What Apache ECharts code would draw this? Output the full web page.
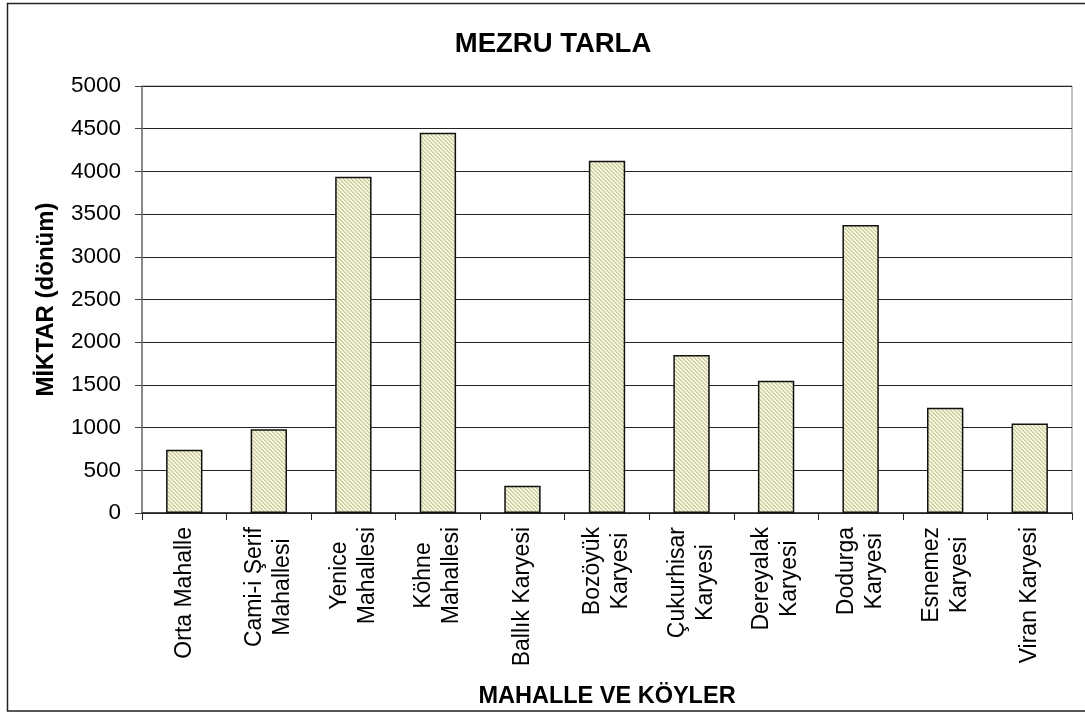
<!DOCTYPE html>
<html>
<head>
<meta charset="utf-8">
<title>MEZRU TARLA</title>
<script src="https://cdn.jsdelivr.net/npm/echarts@6/dist/echarts.min.js"></script>
<style>
    html, body { margin: 0; padding: 0; background: #fff; }
    #chart { width: 1085px; height: 722px; }
</style>
</head>
<body>
<div id="chart"></div>
<script>
// veriler
const categories = [
    'Orta Mahalle',
    'Cami-i Şerif\nMahallesi',
    'Yenice\nMahallesi',
    'Köhne\nMahallesi',
    'Ballık Karyesi',
    'Bozöyük\nKaryesi',
    'Çukurhisar\nKaryesi',
    'Dereyalak\nKaryesi',
    'Dodurga\nKaryesi',
    'Esnemez\nKaryesi',
    'Viran Karyesi'
]
const values = [740, 980, 3938, 4453, 320, 4125, 1851, 1548, 3372, 1232, 1049]
const yTicks = [0, 500, 1000, 1500, 2000, 2500, 3000, 3500, 4000, 4500, 5000]

const FONT = '"Liberation Sans", Arial, sans-serif'

// çizgili dolgu deseni
const makeHatch = () => {
    const c = document.createElement('canvas')
    c.width = 4
    c.height = 4
    const ctx = c.getContext('2d')
    for (let y = 0; y < 4; y++) {
        for (let x = 0; x < 4; x++) {
            const k = ((x - y) % 4 + 4) % 4
            ctx.fillStyle = k < 2 ? '#d2d29e' : '#f7f7ea'
            ctx.fillRect(x, y, 1, 1)
        }
    }
    return c
}

const chart = echarts.init(document.getElementById('chart'))

chart.setOption({
    animation: false,
    backgroundColor: '#fff',
    title: {
        text: 'MEZRU TARLA',
        left: 548,
        top: 25,
        textAlign: 'center',
        textStyle: { fontFamily: FONT, fontSize: 27.5, fontWeight: 'bold', color: '#000' }
    },
    graphic: [{
        type: 'rect',
        shape: { x: 7.5, y: 3.5, width: 1090, height: 707.5 },
        style: { fill: 'none', stroke: '#222', lineWidth: 1.5 },
        silent: true
    }],
    grid: {
        left: 142,
        right: 13,
        top: 86,
        bottom: 209,
        show: true,
        borderColor: '#888',
        borderWidth: 1
    },
    xAxis: {
        type: 'category',
        data: categories,
        name: 'MAHALLE VE KÖYLER',
        nameLocation: 'middle',
        nameGap: 172,
        nameTextStyle: { fontFamily: FONT, fontSize: 23.5, fontWeight: 'bold', color: '#000' },
        axisLine: { lineStyle: { color: '#222', width: 1.5 } },
        axisTick: { show: true, length: 7, lineStyle: { color: '#222' } },
        axisLabel: {
            interval: 0,
            rotate: 90,
            margin: 14,
            color: '#000',
            fontFamily: FONT,
            fontSize: 23,
            formatter: v => v.split('\n').map(s => '{c|' + s + '}').join('\n'),
            rich: {
                c: { align: 'center', fontFamily: FONT, fontSize: 23, lineHeight: 28, color: '#000' }
            }
        }
    },
    yAxis: {
        type: 'value',
        min: yTicks[0],
        max: yTicks[yTicks.length - 1],
        interval: 500,
        name: 'MİKTAR (dönüm)',
        nameLocation: 'middle',
        nameGap: 84,
        nameTextStyle: { fontFamily: FONT, fontSize: 24, fontWeight: 'bold', color: '#000' },
        axisLine: { show: true, lineStyle: { color: '#777', width: 1.5 } },
        axisTick: { show: true, length: 7, lineStyle: { color: '#444' } },
        axisLabel: {
            margin: 21,
            color: '#000',
            fontFamily: FONT,
            fontSize: 22.5,
            formatter: v => String(v)
        },
        splitLine: { lineStyle: { color: '#222', width: 1 } }
    },
    series: [{
        type: 'bar',
        data: values,
        barCategoryGap: '57%',
        itemStyle: {
            color: { image: makeHatch(), repeat: 'repeat' },
            borderColor: '#111',
            borderWidth: 1.5
        }
    }]
})
</script>
</body>
</html>
